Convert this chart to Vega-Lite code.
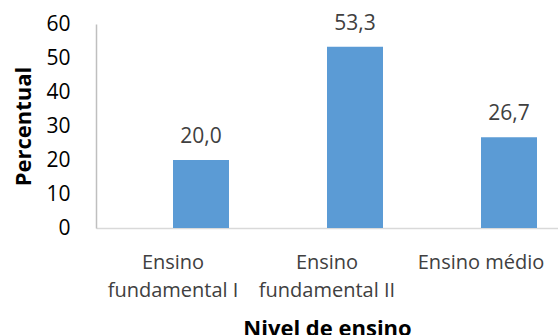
{
  "$schema": "https://vega.github.io/schema/vega-lite/v6.json",
  "width": 462,
  "height": 204,
  "autosize": {"type": "none"},
  "padding": {"left": 96, "top": 24, "right": 0, "bottom": 107},
  "config": {
    "view": {"stroke": null},
    "font": "Open Sans",
    "locale": {"number": {"decimal": ",", "thousands": ".", "grouping": [3], "currency": ["R$", ""]}}
  },
  "data": {
    "values": [
      {"nivel": "Ensino fundamental I", "percentual": 20.0},
      {"nivel": "Ensino fundamental II", "percentual": 53.3},
      {"nivel": "Ensino médio", "percentual": 26.7}
    ]
  },
  "encoding": {
    "x": {
      "field": "nivel",
      "type": "nominal",
      "sort": null,
      "scale": {"paddingInner": 0, "paddingOuter": 0},
      "axis": {
        "title": "Nivel de ensino",
        "titleFontSize": 22,
        "titleFontWeight": "bold",
        "titleColor": "#000000",
        "titlePadding": 18,
        "labelAngle": 0,
        "labelFontSize": 20,
        "labelColor": "#404040",
        "labelLineHeight": 28,
        "labelPadding": 24,
        "labelExpr": "datum.value == 'Ensino médio' ? datum.value : ['Ensino', slice(datum.value, 7)]",
        "ticks": false,
        "domainColor": "#d9d9d9",
        "domainWidth": 1.5
      }
    },
    "y": {
      "field": "percentual",
      "type": "quantitative",
      "scale": {"domain": [0, 60], "nice": false},
      "axis": {
        "title": "Percentual",
        "titleFontSize": 22,
        "titleFontWeight": "bold",
        "titleColor": "#000000",
        "titlePadding": 10,
        "values": [0, 10, 20, 30, 40, 50, 60],
        "labelFontSize": 21,
        "labelColor": "#000000",
        "labelPadding": 26,
        "ticks": false,
        "grid": false,
        "domainColor": "#bfbfbf",
        "domainWidth": 1.5
      }
    }
  },
  "layer": [
    {
      "mark": {"type": "bar", "color": "#5B9BD5", "width": 56, "xOffset": 28}
    },
    {
      "mark": {"type": "text", "xOffset": 28, "dy": -17, "baseline": "alphabetic", "fontSize": 21, "color": "#404040"},
      "encoding": {"text": {"field": "percentual", "type": "quantitative", "format": ".1f"}}
    }
  ]
}
